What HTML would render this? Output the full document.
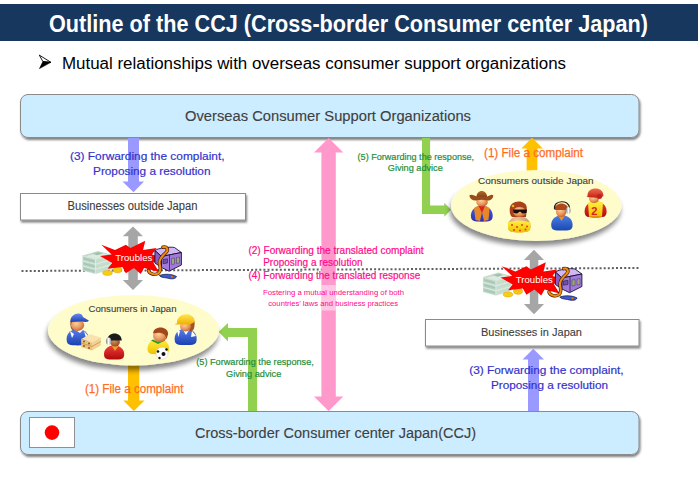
<!DOCTYPE html>
<html><head><meta charset="utf-8">
<style>
html,body{margin:0;padding:0;background:#fff;width:700px;height:498px;overflow:hidden}
svg{display:block}
text{font-family:"Liberation Sans",sans-serif}
</style></head><body>
<svg width="700" height="498" viewBox="0 0 700 498">
<defs>
<filter id="sh" x="-10%" y="-30%" width="130%" height="180%">
<feGaussianBlur in="SourceAlpha" stdDeviation="1.1"/>
<feOffset dx="1.3" dy="1.6" result="o"/>
<feComponentTransfer><feFuncA type="linear" slope="0.5"/></feComponentTransfer>
<feMerge><feMergeNode/><feMergeNode in="SourceGraphic"/></feMerge>
</filter>
<filter id="esh" x="-20%" y="-30%" width="140%" height="180%">
<feGaussianBlur in="SourceAlpha" stdDeviation="2.8"/>
<feOffset dx="-1.5" dy="4.5" result="o"/>
<feComponentTransfer><feFuncA type="linear" slope="0.47"/></feComponentTransfer>
<feMerge><feMergeNode/><feMergeNode in="SourceGraphic"/></feMerge>
</filter>
<radialGradient id="eg" cx="50%" cy="50%" r="50%">
<stop offset="0" stop-color="#fffdcd"/>
<stop offset="1" stop-color="#fffccb"/>
</radialGradient>
<radialGradient id="skin" cx="40%" cy="35%" r="70%"><stop offset="0" stop-color="#fbd0a0"/><stop offset="0.6" stop-color="#e8965a"/><stop offset="1" stop-color="#c0602a"/></radialGradient>
<radialGradient id="skin2" cx="40%" cy="30%" r="70%"><stop offset="0" stop-color="#f0c8a0"/><stop offset="1" stop-color="#c08860"/></radialGradient>
<radialGradient id="skindark" cx="40%" cy="35%" r="70%"><stop offset="0" stop-color="#d89060"/><stop offset="1" stop-color="#8a4a20"/></radialGradient>
<linearGradient id="gblue" x1="0" y1="0" x2="0" y2="1"><stop offset="0" stop-color="#5a80f0"/><stop offset="1" stop-color="#1a40b0"/></linearGradient>
<linearGradient id="gblue2" x1="0" y1="0" x2="0" y2="1"><stop offset="0" stop-color="#4a60e0"/><stop offset="1" stop-color="#2a30b0"/></linearGradient>
<linearGradient id="gblue3" x1="0" y1="0" x2="0" y2="1"><stop offset="0" stop-color="#4a80e8"/><stop offset="1" stop-color="#1a48b0"/></linearGradient>
<linearGradient id="gred" x1="0" y1="0" x2="0" y2="1"><stop offset="0" stop-color="#f04040"/><stop offset="1" stop-color="#b00808"/></linearGradient>
<linearGradient id="gyellow" x1="0" y1="0" x2="0" y2="1"><stop offset="0" stop-color="#fff040"/><stop offset="1" stop-color="#f0c000"/></linearGradient>
<linearGradient id="gcap" x1="0" y1="0" x2="0" y2="1"><stop offset="0" stop-color="#6a8af0"/><stop offset="1" stop-color="#2040b0"/></linearGradient>
<linearGradient id="gyhat" x1="0" y1="0" x2="0" y2="1"><stop offset="0" stop-color="#ffe650"/><stop offset="1" stop-color="#f0b000"/></linearGradient>
<linearGradient id="gredhat" x1="0" y1="0" x2="0" y2="1"><stop offset="0" stop-color="#f06a50"/><stop offset="1" stop-color="#c02010"/></linearGradient>
<linearGradient id="gsilver" x1="0" y1="0" x2="1" y2="0"><stop offset="0" stop-color="#808080"/><stop offset="0.5" stop-color="#ffffff"/><stop offset="1" stop-color="#909090"/></linearGradient>
<linearGradient id="ghat" x1="0" y1="0" x2="0" y2="1"><stop offset="0" stop-color="#b86a30"/><stop offset="1" stop-color="#7a3a10"/></linearGradient>
</defs>

<!-- title bar -->
<rect x="0" y="4" width="698" height="37" fill="#17375e"/>
<text x="49" y="31.6" font-size="23" font-weight="bold" fill="#fff" textLength="599" lengthAdjust="spacingAndGlyphs">Outline of the CCJ (Cross-border Consumer center Japan)</text>

<!-- subtitle -->
<path d="M39.3 55.1 L50.9 62.3 L42.9 61.6 Z" fill="#fff" stroke="#000" stroke-width="0.9" stroke-linejoin="round"/>
<path d="M42.9 61.6 L50.9 62.3 L39.5 68.6 Z" fill="#000" stroke="#000" stroke-width="0.6"/>
<text x="62" y="68.6" font-size="16" fill="#000" textLength="504" lengthAdjust="spacingAndGlyphs">Mutual relationships with overseas consumer support organizations</text>

<!-- dotted line -->
<line x1="21.5" y1="271" x2="638.5" y2="268" stroke="#606060" stroke-width="2" stroke-dasharray="2 2.1"/>

<!-- top box -->
<rect x="20.5" y="94.5" width="618.5" height="43" rx="7.5" ry="7.5" fill="#ccecff" stroke="#8a8a8a" stroke-width="1" filter="url(#sh)"/>
<text x="185" y="120.7" font-size="14" fill="#404040" stroke="#404040" stroke-width="0.12" textLength="286" lengthAdjust="spacingAndGlyphs">Overseas Consumer Support Organizations</text>

<!-- bottom box -->
<rect x="20.5" y="411.5" width="618.5" height="43" rx="7.5" ry="7.5" fill="#ccecff" stroke="#8a8a8a" stroke-width="1" filter="url(#sh)"/>
<rect x="29.5" y="417.5" width="45" height="30" fill="#fff" stroke="#909090" stroke-width="1"/>
<circle cx="52" cy="432.6" r="7.3" fill="#ff0000"/>
<text x="195" y="437.9" font-size="14" fill="#404040" stroke="#404040" stroke-width="0.12" textLength="281" lengthAdjust="spacingAndGlyphs">Cross-border Consumer center Japan(CCJ)</text>

<!-- business boxes -->
<rect x="20.5" y="193.5" width="225" height="26.5" fill="#fff" stroke="#8a8a8a" stroke-width="1" filter="url(#sh)"/>
<text x="67.5" y="210.4" font-size="12" fill="#404040" stroke="#404040" stroke-width="0.12" textLength="130" lengthAdjust="spacingAndGlyphs">Businesses outside Japan</text>
<rect x="425.5" y="319.5" width="213.5" height="26.5" fill="#fff" stroke="#8a8a8a" stroke-width="1" filter="url(#sh)"/>
<text x="481" y="336.3" font-size="11.5" fill="#404040" stroke="#404040" stroke-width="0.12" textLength="101" lengthAdjust="spacingAndGlyphs">Businesses in Japan</text>

<!-- gray double arrows -->
<path d="M133 226.5 L143 236.3 H137.8 V280 H143 L133 290 L122.8 280 H128.3 V236.3 H122.8 Z" fill="#a6a6a6"/>
<path d="M534 249.7 L544 260 H538.3 V304 H544 L534 314.3 L523.9 304 H529.8 V260 H523.9 Z" fill="#a6a6a6"/>

<g transform="translate(0,0)"><path d="M82.5,266 L98,261.5 L111,265 L95.5,269.5 Z" fill="#dcebe0" stroke="#a9c6b4" stroke-width="0.6"/><path d="M82.5,266 L95.5,269.5 L95.5,274 L82.5,270.5 Z" fill="#b4d0c0" stroke="#e8f2ea" stroke-width="0.5"/><path d="M95.5,269.5 L111,265 L111,269.5 L95.5,274 Z" fill="#c6dccd" stroke="#e8f2ea" stroke-width="0.5"/><path d="M84,268.5 L94,271.3" stroke="#9abaa6" stroke-width="0.6"/><path d="M82.5,261 L98,256.5 L111,260 L95.5,264.5 Z" fill="#dcebe0" stroke="#a9c6b4" stroke-width="0.6"/><path d="M82.5,261 L95.5,264.5 L95.5,269 L82.5,265.5 Z" fill="#b4d0c0" stroke="#e8f2ea" stroke-width="0.5"/><path d="M95.5,264.5 L111,260 L111,264.5 L95.5,269 Z" fill="#c6dccd" stroke="#e8f2ea" stroke-width="0.5"/><path d="M84,263.5 L94,266.3" stroke="#9abaa6" stroke-width="0.6"/><path d="M82.5,256 L98,251.5 L111,255 L95.5,259.5 Z" fill="#dcebe0" stroke="#a9c6b4" stroke-width="0.6"/><path d="M82.5,256 L95.5,259.5 L95.5,264 L82.5,260.5 Z" fill="#b4d0c0" stroke="#e8f2ea" stroke-width="0.5"/><path d="M95.5,259.5 L111,255 L111,259.5 L95.5,264 Z" fill="#c6dccd" stroke="#e8f2ea" stroke-width="0.5"/><path d="M84,258.5 L94,261.3" stroke="#9abaa6" stroke-width="0.6"/><path d="M92,253.5 L98,252 L103,253.5 L97,255.3 Z" fill="#a0bea8"/><path d="M85.5,256 L98,252.5" stroke="#b8d2c0" stroke-width="0.6"/><ellipse cx="107.5" cy="273" rx="4.8" ry="2.4" fill="#f5d010" stroke="#e0a000" stroke-width="0.5"/><ellipse cx="117.5" cy="269.8" rx="4.5" ry="3" fill="#f5c810" stroke="#e09000" stroke-width="0.5"/></g><g transform="translate(0,0)"><path d="M101.3,244.7 L115,249.9 L125.9,244.7 L130.4,248 L145.3,240.7 L143,249.9 L156.7,248 L152,254.4 L168.1,258.4 L153.3,262.4 L159,272.1 L144.1,268.1 L140.7,273.9 L133.9,268.1 L125.9,273.3 L122.4,267 L107.6,268.7 L112.1,263 L100.1,256.1 L111.6,254.4 Z" fill="#ff0000"/><text x="115.3" y="261" font-size="9.8" fill="#fff" textLength="37" lengthAdjust="spacingAndGlyphs">Troubles</text><path d="M154.9,250.5 C158,248 170,246.5 174.5,247.5 L181.4,252.5 L161.5,256.5 Z" fill="#d0b8f4" stroke="#1a1030" stroke-width="0.9" stroke-linejoin="round"/><path d="M154.9,250.5 L161.5,256.5 L161.5,267.5 L154.9,263 Z" fill="#8a5cc8" stroke="#1a1030" stroke-width="0.9" stroke-linejoin="round"/><path d="M161.5,256.5 L181.4,252.5 L181.4,265 L169,271.2 L161.5,267.5 Z" fill="#a27ade" stroke="#1a1030" stroke-width="0.9" stroke-linejoin="round"/><path d="M169.5,255 L169.5,270.5" stroke="#1a1030" stroke-width="0.7"/><path d="M171.5,258.5 L174.5,258 L174.5,264 L171.5,264.5 Z M176.5,257.5 L179.5,257 L179.5,263 L176.5,263.5 Z" fill="#9aa888" stroke="#302040" stroke-width="0.4"/><path d="M163,259.5 L167.5,258.8 L167.5,263 L163,263.7 Z" fill="#7050a0" stroke="#1a1030" stroke-width="0.5"/><path d="M163,247.2 C166.5,246 169,249.5 166,252.5 C162,256 159.5,258.5 159.5,262.5 C159.5,267 162,270 158.5,273.2 C155,275.5 149.5,274 148.5,270.5" fill="none" stroke="#3a1a00" stroke-width="3.4" stroke-linecap="round"/><path d="M163,247.2 C166.5,246 169,249.5 166,252.5 C162,256 159.5,258.5 159.5,262.5 C159.5,267 162,270 158.5,273.2 C155,275.5 149.5,274 148.5,270.5" fill="none" stroke="#f08a10" stroke-width="2.2" stroke-linecap="round"/><path d="M159.3,275.5 C165,273.5 172,274 176.6,276.5 C175.5,279 172,279.5 167,278 C163,277.5 160,277 159.3,275.5 Z" fill="#3a5ad0" stroke="#101040" stroke-width="0.7"/><circle cx="172" cy="276.8" r="1" fill="#f07010"/></g>
<g transform="translate(400.5,21.5)"><path d="M82.5,266 L98,261.5 L111,265 L95.5,269.5 Z" fill="#dcebe0" stroke="#a9c6b4" stroke-width="0.6"/><path d="M82.5,266 L95.5,269.5 L95.5,274 L82.5,270.5 Z" fill="#b4d0c0" stroke="#e8f2ea" stroke-width="0.5"/><path d="M95.5,269.5 L111,265 L111,269.5 L95.5,274 Z" fill="#c6dccd" stroke="#e8f2ea" stroke-width="0.5"/><path d="M84,268.5 L94,271.3" stroke="#9abaa6" stroke-width="0.6"/><path d="M82.5,261 L98,256.5 L111,260 L95.5,264.5 Z" fill="#dcebe0" stroke="#a9c6b4" stroke-width="0.6"/><path d="M82.5,261 L95.5,264.5 L95.5,269 L82.5,265.5 Z" fill="#b4d0c0" stroke="#e8f2ea" stroke-width="0.5"/><path d="M95.5,264.5 L111,260 L111,264.5 L95.5,269 Z" fill="#c6dccd" stroke="#e8f2ea" stroke-width="0.5"/><path d="M84,263.5 L94,266.3" stroke="#9abaa6" stroke-width="0.6"/><path d="M82.5,256 L98,251.5 L111,255 L95.5,259.5 Z" fill="#dcebe0" stroke="#a9c6b4" stroke-width="0.6"/><path d="M82.5,256 L95.5,259.5 L95.5,264 L82.5,260.5 Z" fill="#b4d0c0" stroke="#e8f2ea" stroke-width="0.5"/><path d="M95.5,259.5 L111,255 L111,259.5 L95.5,264 Z" fill="#c6dccd" stroke="#e8f2ea" stroke-width="0.5"/><path d="M84,258.5 L94,261.3" stroke="#9abaa6" stroke-width="0.6"/><path d="M92,253.5 L98,252 L103,253.5 L97,255.3 Z" fill="#a0bea8"/><path d="M85.5,256 L98,252.5" stroke="#b8d2c0" stroke-width="0.6"/><ellipse cx="107.5" cy="273" rx="4.8" ry="2.4" fill="#f5d010" stroke="#e0a000" stroke-width="0.5"/><ellipse cx="117.5" cy="269.8" rx="4.5" ry="3" fill="#f5c810" stroke="#e09000" stroke-width="0.5"/></g><g transform="translate(400.5,21.5)"><path d="M101.3,244.7 L115,249.9 L125.9,244.7 L130.4,248 L145.3,240.7 L143,249.9 L156.7,248 L152,254.4 L168.1,258.4 L153.3,262.4 L159,272.1 L144.1,268.1 L140.7,273.9 L133.9,268.1 L125.9,273.3 L122.4,267 L107.6,268.7 L112.1,263 L100.1,256.1 L111.6,254.4 Z" fill="#ff0000"/><text x="115.3" y="261" font-size="9.8" fill="#fff" textLength="37" lengthAdjust="spacingAndGlyphs">Troubles</text><path d="M154.9,250.5 C158,248 170,246.5 174.5,247.5 L181.4,252.5 L161.5,256.5 Z" fill="#d0b8f4" stroke="#1a1030" stroke-width="0.9" stroke-linejoin="round"/><path d="M154.9,250.5 L161.5,256.5 L161.5,267.5 L154.9,263 Z" fill="#8a5cc8" stroke="#1a1030" stroke-width="0.9" stroke-linejoin="round"/><path d="M161.5,256.5 L181.4,252.5 L181.4,265 L169,271.2 L161.5,267.5 Z" fill="#a27ade" stroke="#1a1030" stroke-width="0.9" stroke-linejoin="round"/><path d="M169.5,255 L169.5,270.5" stroke="#1a1030" stroke-width="0.7"/><path d="M171.5,258.5 L174.5,258 L174.5,264 L171.5,264.5 Z M176.5,257.5 L179.5,257 L179.5,263 L176.5,263.5 Z" fill="#9aa888" stroke="#302040" stroke-width="0.4"/><path d="M163,259.5 L167.5,258.8 L167.5,263 L163,263.7 Z" fill="#7050a0" stroke="#1a1030" stroke-width="0.5"/><path d="M163,247.2 C166.5,246 169,249.5 166,252.5 C162,256 159.5,258.5 159.5,262.5 C159.5,267 162,270 158.5,273.2 C155,275.5 149.5,274 148.5,270.5" fill="none" stroke="#3a1a00" stroke-width="3.4" stroke-linecap="round"/><path d="M163,247.2 C166.5,246 169,249.5 166,252.5 C162,256 159.5,258.5 159.5,262.5 C159.5,267 162,270 158.5,273.2 C155,275.5 149.5,274 148.5,270.5" fill="none" stroke="#f08a10" stroke-width="2.2" stroke-linecap="round"/><path d="M159.3,275.5 C165,273.5 172,274 176.6,276.5 C175.5,279 172,279.5 167,278 C163,277.5 160,277 159.3,275.5 Z" fill="#3a5ad0" stroke="#101040" stroke-width="0.7"/><circle cx="172" cy="276.8" r="1" fill="#f07010"/></g>
<!-- blue arrows -->
<path d="M128 138 H139 V181.4 H144 L133.5 192.2 L122.5 181.4 H128 Z" fill="#9999ff"/>
<path d="M528 411 H539 V359.6 H544 L533.3 348.7 L522.6 359.6 H528 Z" fill="#9999ff"/>

<!-- pink double arrow -->
<path d="M328.6 138 L343.3 152.6 H335.8 V396.6 H343.3 L328.6 411 L314 396.6 H321.4 V152.6 H314 Z" fill="#ff99cc"/>
<rect x="321.4" y="285" width="14.4" height="25.5" fill="#fff" fill-opacity="0.45"/>

<!-- green arrows -->
<path d="M248 411 V337 H228 V341.6 L218.6 331.7 L228 323.1 V328 H257.1 V411 Z" fill="#92d050"/>
<path d="M422 138 H430.1 V205.4 H444.3 V202.7 L451 209.7 L444.3 216.8 V213.9 H422 Z" fill="#92d050"/>

<!-- orange arrows -->
<path d="M128 360 H139.3 V400.5 H144.6 L133.8 411 L123.3 400.5 H128 Z" fill="#ffc000"/>
<path d="M526.6 175 H537.3 V148.6 H542.9 L532 137.8 L521.3 148.6 H526.6 Z" fill="#ffc000"/>

<!-- ellipses -->
<ellipse cx="133.5" cy="330.2" rx="85.5" ry="35.3" fill="url(#eg)" filter="url(#esh)"/>
<ellipse cx="536.2" cy="205.5" rx="85.2" ry="35.5" fill="url(#eg)" filter="url(#esh)"/>
<text x="88.5" y="312.1" font-size="9.5" fill="#404040" stroke="#404040" stroke-width="0.12" textLength="88" lengthAdjust="spacingAndGlyphs">Consumers in Japan</text>
<text x="478" y="184.4" font-size="9.5" fill="#404040" stroke="#404040" stroke-width="0.12" textLength="115.5" lengthAdjust="spacingAndGlyphs">Consumers outside  Japan</text>

<g><path d="M66.6,339.1 C66.6,332.1 72.8,328.8 77.7,328.8 C82.6,328.8 88.8,332.1 88.8,339.1 C88.8,345.4 85.5,345.4 77.7,345.4 C69.9,345.4 66.6,345.4 66.6,339.1 Z" fill="url(#gblue)" /><path d="M70,331 L74,334 L72,338 Z M84,331 L88,336 L86,338 Z" fill="#fff"/><path d="M74,329 L80,333 L84,329 Z" fill="#fff"/><path d="M70.5,321 C70,327 71,330 74,331 L75,322 Z" fill="#a0522d"/><ellipse cx="77.6" cy="325.2" rx="6.6" ry="5.8" fill="url(#skin)"/><path d="M70.3,322 C70,313 82,311 83,317 L88.8,320.5 C88,322.5 84,322 82,321.5 Z" fill="url(#gcap)"/><path d="M81.2,339 L90,334.3 L100.8,337.5 L92,342.5 Z" fill="#f8e2ae"/><path d="M81.2,339 L92,342.5 L92,350.5 L81.2,347 Z" fill="#eac47e"/><path d="M92,342.5 L100.8,337.5 L100.8,345.5 L92,350.5 Z" fill="#f2d292"/><path d="M81.2,343 L92,346.5 L100.8,341.5" fill="none" stroke="#c89048" stroke-width="0.8"/><circle cx="84" cy="341.5" r="0.9" fill="#8a4a20"/><circle cx="89" cy="343.5" r="0.9" fill="#8a4a20"/><circle cx="84" cy="346" r="0.9" fill="#8a4a20"/><circle cx="89" cy="348" r="0.9" fill="#8a4a20"/></g>
<g><path d="M104.0,354.1 C104.0,348.1 109.7,345.2 114.1,345.2 C118.5,345.2 124.2,348.1 124.2,354.1 C124.2,359.6 121.2,359.6 114.1,359.6 C107.0,359.6 104.0,359.6 104.0,354.1 Z" fill="url(#gred)" /><path d="M111.5,345.5 L115,351 L119,345.5 Z" fill="#f0a020"/><ellipse cx="115.0" cy="342.1" rx="4.9" ry="4.5" fill="url(#skindark)"/><path d="M107.2,340.5 C107.2,331.0 121.7,331.0 121.7,340.5 Z" fill="#1a1a1a"/><ellipse cx="108.6" cy="341.3" rx="2.6" ry="3.8" fill="url(#gsilver)"/></g>
<g><path d="M147.5,348.5 C147.5,342.1 153.5,339.1 158.3,339.1 C163.1,339.1 169.1,342.1 169.1,348.5 C169.1,354.2 165.9,354.2 158.3,354.2 C150.7,354.2 147.5,354.2 147.5,348.5 Z" fill="url(#gyellow)" /><path d="M151,340.5 L158,344 L165,340.5 L163,339.5 L158,342 L153,339.5 Z" fill="#2a9a2a"/><ellipse cx="160.0" cy="336.1" rx="7.0" ry="6.1" fill="url(#skin)"/><path d="M153.2,333.5 C152.5,325.5 168.5,325 168.1,334 C167.5,336 167,338 166.3,339 C166,333.5 161,331.5 153.2,333.5 Z" fill="#a04818"/><circle cx="162.1" cy="353.2" r="6" fill="#fff" stroke="#ccc" stroke-width="0.5"/><circle cx="163.5" cy="354" r="2" fill="#111"/><circle cx="158" cy="351.5" r="1.3" fill="#111"/><circle cx="166.5" cy="349.5" r="1.2" fill="#111"/><circle cx="159.5" cy="358" r="1.2" fill="#111"/></g>
<g><path d="M174.6,338.8 C174.6,331.9 180.8,328.6 185.6,328.6 C190.5,328.6 196.7,331.9 196.7,338.8 C196.7,345.1 193.4,345.1 185.6,345.1 C177.9,345.1 174.6,345.1 174.6,338.8 Z" fill="url(#gblue)" /><path d="M177,330 L180,331 L178.5,337 Z M183,330 L186,335 L189,330 Z M192,331 L196,336 L191,337 Z" fill="#fff"/><path d="M187,322 L194.5,321 C195,327 194,331 190,332 Z" fill="#a0522d"/><ellipse cx="185.6" cy="326.5" rx="5.5" ry="5.0" fill="url(#skin)"/><path d="M177,323.5 C176,312 195,311 194.7,322 L190,324.6 L175.1,324.6 C175,323.8 176,323.5 177,323.5 Z" fill="url(#gyhat)"/></g>
<g><path d="M470.9,215.6 C470.9,208.9 477.0,205.7 481.8,205.7 C486.6,205.7 492.7,208.9 492.7,215.6 C492.7,221.7 489.4,221.7 481.8,221.7 C474.2,221.7 470.9,221.7 470.9,215.6 Z" fill="url(#gblue2)" /><path d="M474,208 L478.5,205.5 L482,212 L480,221 L475.5,220 Z" fill="#e8862a"/><path d="M489.5,208 L485,205.5 L482,212 L484,221 L488.5,220 Z" fill="#e8862a"/><path d="M478.5,205.5 L485,205.5 L482,213 Z" fill="#dd2222"/><ellipse cx="482.0" cy="202.0" rx="5.8" ry="4.5" fill="url(#skin)"/><path d="M476.3,198 C476,188.5 487.5,188.5 487.2,198 Z" fill="url(#ghat)"/><path d="M469.3,195.5 C471.5,193.8 474.5,195.5 477,196.8 L487,196.8 C489.5,195.5 492,193.8 493.3,195.5 C493,199.5 489.5,201.2 486,200.3 C483,199.6 480.5,199.6 477.5,200.3 C473.5,201.2 470,199.5 469.3,195.5 Z" fill="#9a4c1a"/></g>
<g><path d="M508.0,226.1 C508.0,219.2 514.3,215.9 519.2,215.9 C524.2,215.9 530.5,219.2 530.5,226.1 C530.5,232.3 527.1,232.3 519.2,232.3 C511.4,232.3 508.0,232.3 508.0,226.1 Z" fill="url(#skin2)" /><path d="M508,222.5 C515,220 523,220 530.5,222.5 L530.5,227 C530.5,232 526,232.5 519,232.5 C512,232.5 508,232 508,227 Z" fill="url(#gyellow)"/><circle cx="512" cy="225" r="1" fill="#e04010"/><circle cx="517" cy="227" r="1" fill="#e04010"/><circle cx="522" cy="225" r="1" fill="#e04010"/><circle cx="527" cy="226.5" r="1" fill="#e04010"/><circle cx="514" cy="230" r="1" fill="#e04010"/><circle cx="520" cy="230.5" r="1" fill="#e04010"/><circle cx="525.5" cy="229.5" r="1" fill="#e04010"/><path d="M509.7,210 C509,199 527,199 526.8,208 L526,216.9 L512,216.9 C510,215 509.7,213 509.7,210 Z" fill="#a8401a"/><ellipse cx="519.5" cy="212" rx="6.5" ry="5" fill="url(#skin)"/><path d="M513,209.5 L527,209.5 L526.5,213 L522.5,213.5 L520,211.5 L517,213.5 L513.5,213 Z" fill="#1a0a0a"/><circle cx="513" cy="206" r="1.3" fill="#f0b020"/></g>
<g><path d="M551.2,224.7 C551.2,218.3 557.2,215.3 561.9,215.3 C566.6,215.3 572.6,218.3 572.6,224.7 C572.6,230.5 569.4,230.5 561.9,230.5 C554.4,230.5 551.2,230.5 551.2,224.7 Z" fill="url(#gblue3)" /><path d="M558,215.5 L561.5,221 L565,215.5 Z" fill="#f09020"/><ellipse cx="561.1" cy="211.7" rx="5.2" ry="5.2" fill="url(#skin)"/><path d="M554.4,210.0 C554.4,201.2 568.5,201.2 568.5,210.0 Z" fill="#b04818"/><path d="M554.5,209 C553,200 569,199 569.5,208" fill="none" stroke="#222" stroke-width="1.2"/><ellipse cx="568.3" cy="210.5" rx="2.3" ry="3.5" fill="url(#gsilver)"/></g>
<g><path d="M584.6,211.2 C584.6,204.4 590.8,201.2 595.6,201.2 C600.4,201.2 606.6,204.4 606.6,211.2 C606.6,217.4 603.3,217.4 595.6,217.4 C587.9,217.4 584.6,217.4 584.6,211.2 Z" fill="url(#gred)" /><path d="M588,202.5 C592,201.5 599,201.5 603,202.5 L602,216.8 L589,216.8 Z" fill="url(#gyellow)"/><text x="591.2" y="214.5" font-size="11" font-weight="bold" fill="#e02020">2</text><ellipse cx="594.0" cy="198.8" rx="5.0" ry="4.2" fill="url(#skin)"/><path d="M587.5,196.5 C586.5,186 604,186 603.4,196 L600,198 L586.2,197 Z" fill="url(#gredhat)"/><circle cx="599.5" cy="196.5" r="2.5" fill="#c02020"/></g>
<!-- texts: blue -->
<g fill="#3333cc" stroke="#3333cc" stroke-width="0.2" font-size="11.7">
<text x="70" y="160" textLength="154.5" lengthAdjust="spacingAndGlyphs">(3) Forwarding the complaint,</text>
<text x="93" y="175.2" textLength="117.5" lengthAdjust="spacingAndGlyphs">Proposing a resolution</text>
<text x="469.2" y="374.3" textLength="154.5" lengthAdjust="spacingAndGlyphs">(3) Forwarding the complaint,</text>
<text x="491" y="389.2" textLength="117" lengthAdjust="spacingAndGlyphs">Proposing a resolution</text>
</g>
<!-- orange texts -->
<g fill="#ff6d1f" stroke="#ff6d1f" stroke-width="0.25" font-size="12">
<text x="85" y="393" textLength="98.5" lengthAdjust="spacingAndGlyphs">(1) File a complaint</text>
<text x="484" y="156.8" textLength="99" lengthAdjust="spacingAndGlyphs">(1) File a complaint</text>
</g>
<!-- green texts -->
<g fill="#1e8e3a" stroke="#1e8e3a" stroke-width="0.2" font-size="9.5">
<text x="196.3" y="365.2" textLength="117.5" lengthAdjust="spacingAndGlyphs">(5) Forwarding the response,</text>
<text x="226" y="376.6" textLength="55.3" lengthAdjust="spacingAndGlyphs">Giving advice</text>
<text x="357.6" y="160.2" textLength="116.5" lengthAdjust="spacingAndGlyphs">(5) Forwarding the response,</text>
<text x="387.8" y="170.6" textLength="55" lengthAdjust="spacingAndGlyphs">Giving advice</text>
</g>
<!-- pink texts -->
<g fill="#ff0a8a" stroke="#ff0a8a" stroke-width="0.2" font-size="10">
<text x="248.4" y="254.3" textLength="175.2" lengthAdjust="spacingAndGlyphs">(2) Forwarding the translated complaint</text>
<text x="263.2" y="266.3" textLength="99.3" lengthAdjust="spacingAndGlyphs">Proposing a resolution</text>
<text x="248.4" y="279.4" textLength="171.8" lengthAdjust="spacingAndGlyphs">(4) Forwarding the translated response</text>
</g>
<g fill="#ff0a8a" font-size="6.8">
<text x="263" y="295" textLength="141" lengthAdjust="spacingAndGlyphs">Fostering a mutual understanding of both</text>
<text x="268.3" y="305.5" textLength="129.8" lengthAdjust="spacingAndGlyphs">countries’ laws and business practices</text>
</g>

</svg>
</body></html>
